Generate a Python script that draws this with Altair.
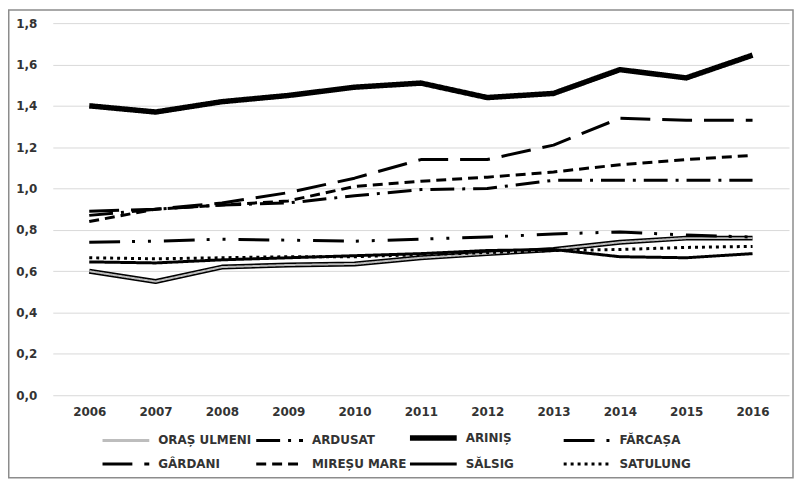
import altair as alt
import pandas as pd

years = ["2006", "2007", "2008", "2009", "2010", "2011", "2012", "2013", "2014", "2015", "2016"]
series = ["ORAȘ ULMENI", "ARDUSAT", "ARINIȘ", "FĂRCAȘA",
          "GÂRDANI", "MIREȘU MARE", "SĂLSIG", "SATULUNG"]

oras_ulmeni = [0.60, 0.55, 0.62, 0.63, 0.635, 0.665, 0.685, 0.705, 0.74, 0.76, 0.76]
ardusat     = [0.87, 0.90, 0.92, 0.93, 0.965, 0.995, 1.00, 1.04, 1.04, 1.04, 1.04]
arinis      = [1.40, 1.37, 1.42, 1.45, 1.49, 1.51, 1.44, 1.46, 1.575, 1.535, 1.645]
farcasa     = [0.74, 0.745, 0.755, 0.75, 0.745, 0.755, 0.765, 0.78, 0.79, 0.775, 0.765]
gardani     = [0.89, 0.90, 0.93, 0.98, 1.05, 1.14, 1.14, 1.21, 1.34, 1.33, 1.33]
miresu_mare = [0.84, 0.90, 0.92, 0.94, 1.01, 1.035, 1.055, 1.08, 1.115, 1.14, 1.16]
salsig      = [0.645, 0.64, 0.655, 0.665, 0.675, 0.685, 0.70, 0.705, 0.67, 0.665, 0.685]
satulung    = [0.665, 0.66, 0.665, 0.67, 0.67, 0.68, 0.69, 0.70, 0.705, 0.715, 0.72]

y_ticks = [0.0, 0.2, 0.4, 0.6, 0.8, 1.0, 1.2, 1.4, 1.6, 1.8]

values = [oras_ulmeni, ardusat, arinis, farcasa, gardani, miresu_mare, salsig, satulung]
rows = []
for name, vals in zip(series, values):
    for yr, v in zip(years, vals):
        rows.append({"an": yr, "serie": name, "valoare": v})
df = pd.DataFrame(rows)

colors = ["#bdbdbd", "black", "black", "black", "black", "black", "black", "black"]
dashes = [[1, 0], [24, 8, 3, 8], [1, 0], [31, 12, 3, 13, 3, 13],
          [30, 12], [10, 6], [1, 0], [3, 4]]

x_enc = alt.X("an:O", sort=years,
              scale=alt.Scale(domain=years, padding=0.55),
              axis=alt.Axis(title=None, labelAngle=0, domain=False, ticks=False,
                            grid=False, labelPadding=11, labelFont="DejaVu Sans",
                            labelFontWeight="bold", labelFontSize=12,
                            labelColor="#333333"))
y_enc = alt.Y("valoare:Q",
              scale=alt.Scale(domain=[0, 1.8], nice=False, zero=True),
              axis=alt.Axis(title=None, values=y_ticks, domain=False, ticks=False,
                            tickSize=0, labelPadding=16, grid=True,
                            gridColor="#d9d9d9", gridWidth=1,
                            labelExpr="replace(format(datum.value, '.1f'), '.', ',')",
                            labelFont="DejaVu Sans", labelFontWeight="bold",
                            labelFontSize=12, labelColor="#333333"))

# outer chart border (decoration)
frame_col = "#8c8c8c"
f_left, f_right, f_top, f_bottom = -44.25, 744, -13.25, 457
frame = alt.Chart(df).transform_aggregate(n="count()").mark_rect(
    fill="transparent", strokeWidth=1.5, clip=False
).encode(
    x=alt.value(f_left), x2=alt.value(f_right),
    y=alt.value(f_top), y2=alt.value(f_bottom),
    stroke=alt.value(frame_col),
)

outline = alt.Chart(df).transform_filter(
    alt.datum.serie == "ORAȘ ULMENI"
).mark_line(color="black", strokeWidth=5, strokeJoin="round").encode(
    x=x_enc, y=y_enc, detail="serie:N"
)

legend = alt.Legend(
    title=None, orient="none", legendX=67.5, legendY=411, columns=4,
    direction="horizontal",
    symbolType="M-2.35,0H2.35", symbolSize=400, labelOffset=26.5,
    columnPadding=-8.5, rowPadding=9, gridAlign="all", padding=0,
    labelFont="DejaVu Sans", labelFontWeight="bold", labelFontSize=12,
    labelColor="#333333", symbolFillColor="transparent",
    symbolStrokeWidth=alt.ExprRef(expr="datum.value == 'ARINIȘ' ? 5.5 : 3"),
)

width_rule = (
    alt.when(alt.datum.serie == "ARINIȘ").then(alt.value(5.5))
    .when(alt.datum.serie == "ORAȘ ULMENI").then(alt.value(2))
    .otherwise(alt.value(3))
)

lines = alt.Chart(df).mark_line(strokeJoin="round").encode(
    x=x_enc, y=y_enc,
    color=alt.Color("serie:N", sort=series,
                    scale=alt.Scale(domain=series, range=colors), legend=legend),
    strokeDash=alt.StrokeDash("serie:N", sort=series,
                              scale=alt.Scale(domain=series, range=dashes), legend=legend),
    strokeWidth=width_rule,
)

chart = alt.layer(frame, outline, lines).properties(
    width=740, height=374,
    autosize=alt.AutoSizeParams(type="none"),
    padding={"left": 45, "top": 14, "right": 5, "bottom": 85},
    background="white",
).configure_view(stroke="transparent")

chart.save("out.html", embed_options={"renderer": "svg", "actions": False})
